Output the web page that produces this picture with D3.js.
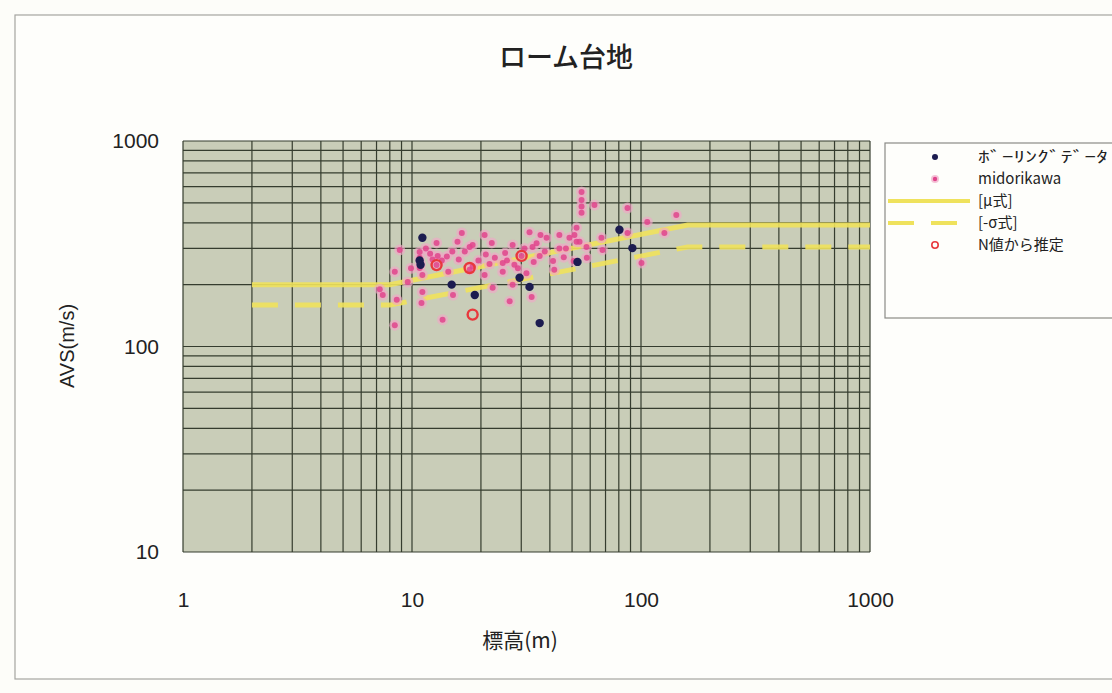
<!DOCTYPE html>
<html><head><meta charset="utf-8">
<script src="https://cdn.jsdelivr.net/npm/d3@7"></script>
<style>body{margin:0;background:#fdfdf9;}svg{display:block;}</style>
</head><body>
<svg id="chart" width="1112" height="693"></svg>
<script>
// ---- data ----
const boringH = [11.1, 10.8, 10.9, 14.9, 18.8, 29.5, 32.6, 36.1, 52.8, 80.5, 91.7];
const boringV = [338, 262, 250, 200, 178, 216, 195, 130, 258, 370, 301];

const midoriH = [7.23, 7.45, 8.41, 8.58, 8.41, 8.84, 9.58, 10.8, 10.8, 10.9, 10.8, 11.1, 11.1, 11.0,
  12.8, 12.8, 12.95, 13.6, 14.2, 14.4, 15.8, 16.5, 17.85, 17.85, 15.1, 18.4, 18.4, 20.75, 20.75, 21.8,
  22.3, 22.5, 24.9, 24.9, 26.7, 27.5, 27.5, 30.1, 31.6, 32.6, 33.3, 33.6, 36.1, 36.4, 38.7, 41.3, 41.8,
  44, 46, 48.7, 50.8, 52.3, 51.2, 52.3, 53.9, 55, 55, 55, 55, 62.6, 57.8, 67.2, 67.9, 87.3, 87.3, 100.5,
  106.5, 126.5, 142.6,
  19.5, 23, 26, 28, 34, 29, 21, 16, 13.5, 12, 15, 38, 44, 12.3, 17, 25.5, 31, 35, 47, 58, 11.5, 9.9];
const midoriV = [190, 178, 231, 169, 127, 295, 206, 288, 270, 252, 241, 223, 184, 163,
  319, 249, 276, 135, 274, 231, 323, 357, 305, 236, 178, 312, 245, 349, 223, 252,
  319, 193, 255, 231, 166, 312, 200, 276, 227, 360, 174, 305, 276, 349, 338, 261, 236,
  349, 272, 338, 261, 323, 349, 378, 323, 565, 517, 480, 447, 488, 305, 338, 295, 472, 357, 255,
  404, 357, 436,
  262, 270, 262, 250, 258, 240, 280, 265, 262, 283, 290, 290, 300, 265, 290, 285, 300, 318, 300, 270, 300, 240];

const nH = [18.4, 30.1, 12.8, 17.85];
const nV = [143, 276, 249, 241];

const muH = [2, 8, 160, 1000];
const muV = [200, 200, 390, 390];
const sigH = [2, 8, 160, 1000];
const sigV = [159, 159, 305, 305];

const xTicks = [1, 10, 100, 1000];
const yTicks = [10, 100, 1000];

const legendLabels = ["ﾎﾞｰﾘﾝｸﾞﾃﾞｰﾀ", "midorikawa", "[μ式]", "[-σ式]", "N値から推定"];

// ---- drawing ----
const svg = d3.select("#chart");
const L = 183, R = 870, T = 141, B = 552;
const x = d3.scaleLog().domain([1, 1000]).range([L, R]);
const y = d3.scaleLog().domain([10, 1000]).range([B, T]);
const jp = "'Noto Sans CJK JP', 'Noto Sans', sans-serif";
const lat = "'Liberation Sans', Arial, sans-serif";

// outer frame
svg.append("rect").attr("x", 15).attr("y", 15).attr("width", 1110).attr("height", 664)
  .attr("fill", "#fefefb").attr("stroke", "#a5a5a0").attr("stroke-width", 1.2);

// plot background
svg.append("rect").attr("x", L).attr("y", T).attr("width", R - L).attr("height", B - T)
  .attr("fill", "#c9cdb8");

// grid
const gridX = [], gridY = [];
[1, 10, 100].forEach(d => { for (let k = 1; k <= 9; k++) gridX.push(d * k); });
gridX.push(1000);
[10, 100].forEach(d => { for (let k = 1; k <= 9; k++) gridY.push(d * k); });
gridY.push(1000);
const g = svg.append("g");
g.selectAll("line.gx").data(gridX).join("line")
  .attr("x1", d => x(d)).attr("x2", d => x(d)).attr("y1", T).attr("y2", B)
  .attr("stroke", "#353c2e").attr("stroke-width", 1.2);
g.selectAll("line.gy").data(gridY).join("line")
  .attr("y1", d => y(d)).attr("y2", d => y(d)).attr("x1", L).attr("x2", R)
  .attr("stroke", "#353c2e").attr("stroke-width", 1.2);

// axes (labels only)
const xAxis = svg.append("g").attr("transform", `translate(0,${B})`)
  .call(d3.axisBottom(x).tickValues(xTicks).tickFormat(d3.format("d")).tickSize(0).tickPadding(40));
const yAxis = svg.append("g").attr("transform", `translate(${L},0)`)
  .call(d3.axisLeft(y).tickValues(yTicks).tickFormat(d3.format("d")).tickSize(0).tickPadding(24));
[xAxis, yAxis].forEach(a => {
  a.select(".domain").remove();
  a.selectAll("text").attr("font-family", lat).attr("font-size", 21).attr("fill", "#222");
});

// lines
const line = d3.line().x(d => x(d[0])).y(d => y(d[1]));
svg.append("path").datum(muH.map((h, i) => [h, muV[i]])).attr("d", line)
  .attr("fill", "none").attr("stroke", "#efe25c").attr("stroke-width", 5).attr("opacity", 0.9);
svg.append("path").datum(sigH.map((h, i) => [h, sigV[i]])).attr("d", line)
  .attr("fill", "none").attr("stroke", "#efe25c").attr("stroke-width", 5).attr("opacity", 0.9)
  .attr("stroke-dasharray", "26,17");

// midorikawa points
const mid = midoriH.map((h, i) => [h, midoriV[i]]);
svg.append("g").selectAll("circle").data(mid).join("circle")
  .attr("cx", d => x(d[0])).attr("cy", d => y(d[1])).attr("r", 5.5)
  .attr("fill", "#f0a8c6").attr("opacity", 0.65);
svg.append("g").selectAll("circle").data(mid).join("circle")
  .attr("cx", d => x(d[0])).attr("cy", d => y(d[1])).attr("r", 3)
  .attr("fill", "#e0448c").attr("opacity", 0.85);

// N values
svg.append("g").selectAll("circle").data(nH.map((h, i) => [h, nV[i]])).join("circle")
  .attr("cx", d => x(d[0])).attr("cy", d => y(d[1])).attr("r", 5)
  .attr("fill", "none").attr("stroke", "#e8383c").attr("stroke-width", 2.4);

// boring points
svg.append("g").selectAll("circle").data(boringH.map((h, i) => [h, boringV[i]])).join("circle")
  .attr("cx", d => x(d[0])).attr("cy", d => y(d[1])).attr("r", 4.2)
  .attr("fill", "#1c1c50");

// title
svg.append("text").attr("x", 566).attr("y", 67).attr("text-anchor", "middle")
  .attr("font-family", jp).attr("font-size", 27).attr("font-weight", 500).attr("fill", "#222")
  .text("ローム台地");
// axis titles
svg.append("text").attr("x", 520).attr("y", 648).attr("text-anchor", "middle")
  .attr("font-family", jp).attr("font-size", 21).attr("fill", "#222").text("標高(m)");
svg.append("text").attr("transform", "translate(74,346) rotate(-90)").attr("text-anchor", "middle")
  .attr("font-family", lat).attr("font-size", 20).attr("fill", "#222").text("AVS(m/s)");

// legend
const lg = svg.append("g");
lg.append("rect").attr("x", 885).attr("y", 143).attr("width", 240).attr("height", 175)
  .attr("fill", "#fefefb").attr("stroke", "#8a8a86").attr("stroke-width", 1.2);
const ly = [157, 179, 201, 223, 245];
const lt = lg.selectAll("text").data(legendLabels).join("text")
  .attr("x", 978).attr("y", (d, i) => ly[i] + 5)
  .attr("font-family", jp).attr("font-size", 15).attr("fill", "#222").text(d => d);
lt.filter((d, i) => i === 0).attr("textLength", 130).attr("lengthAdjust", "spacingAndGlyphs");
lg.append("circle").attr("cx", 935).attr("cy", ly[0]).attr("r", 3).attr("fill", "#1c1c50");
lg.append("circle").attr("cx", 935).attr("cy", ly[1]).attr("r", 4).attr("fill", "#f0a8c6").attr("opacity", 0.7);
lg.append("circle").attr("cx", 935).attr("cy", ly[1]).attr("r", 2.2).attr("fill", "#e0448c");
lg.append("line").attr("x1", 888).attr("x2", 970).attr("y1", ly[2]).attr("y2", ly[2])
  .attr("stroke", "#efe25c").attr("stroke-width", 4);
lg.append("line").attr("x1", 888).attr("x2", 970).attr("y1", ly[3]).attr("y2", ly[3])
  .attr("stroke", "#efe25c").attr("stroke-width", 4).attr("stroke-dasharray", "26,17");
lg.append("circle").attr("cx", 935).attr("cy", ly[4]).attr("r", 3.2)
  .attr("fill", "none").attr("stroke", "#e8383c").attr("stroke-width", 1.6);
</script>
</body></html>
